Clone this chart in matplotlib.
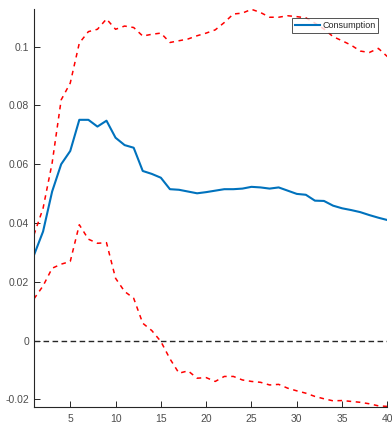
import matplotlib
matplotlib.use("Agg")
import matplotlib.pyplot as plt
import numpy as np

horizon = list(range(1, 41))
consumption = [0.0291, 0.0371, 0.0507, 0.0600, 0.0645, 0.0751, 0.0751, 0.0728, 0.0748, 0.0690,
               0.0665, 0.0656, 0.0577, 0.0567, 0.0554, 0.0515, 0.0513, 0.0507, 0.0501, 0.0505,
               0.0510, 0.0515, 0.0515, 0.0517, 0.0523, 0.0521, 0.0517, 0.0521, 0.0510, 0.0499,
               0.0496, 0.0476, 0.0475, 0.0459, 0.0450, 0.0444, 0.0437, 0.0427, 0.0418, 0.0410]
upper = [0.0360, 0.0450, 0.0604, 0.0819, 0.0876, 0.1012, 0.1051, 0.1059, 0.1094, 0.1059,
         0.1070, 0.1065, 0.1036, 0.1042, 0.1046, 0.1014, 0.1020, 0.1026, 0.1037, 0.1046,
         0.1057, 0.1082, 0.1111, 0.1114, 0.1127, 0.1116, 0.1100, 0.1100, 0.1105, 0.1102,
         0.1098, 0.1080, 0.1060, 0.1034, 0.1020, 0.1005, 0.0985, 0.0980, 0.0994, 0.0966]
lower = [0.0142, 0.0186, 0.0246, 0.0260, 0.0269, 0.0394, 0.0345, 0.0331, 0.0333, 0.0212,
         0.0167, 0.0144, 0.0059, 0.0034, -0.0003, -0.0062, -0.0111, -0.0103, -0.0128, -0.0126,
         -0.0139, -0.0122, -0.0122, -0.0134, -0.0139, -0.0142, -0.0151, -0.0149, -0.0162, -0.0171,
         -0.0179, -0.0190, -0.0198, -0.0205, -0.0204, -0.0207, -0.0210, -0.0215, -0.0222, -0.0224]
xticks = [5, 10, 15, 20, 25, 30, 35, 40]
yticks = [-0.02, 0, 0.02, 0.04, 0.06, 0.08, 0.1]
ytick_labels = ["-0.02", "0", "0.02", "0.04", "0.06", "0.08", "0.1"]

plt.rcParams['font.family'] = ['Liberation Sans', 'DejaVu Sans']
fig = plt.figure(figsize=(3.92, 4.23), dpi=100)
ax = fig.add_axes([34/392, (423-407.3)/423, (387.4-34)/392, (407.3-9)/423])

ax.plot(horizon, [0]*len(horizon), '--', color='#262626', lw=1.0, dashes=(4, 2.5))
ax.plot(horizon, upper, '--', color='#ff0000', lw=1.1, dashes=(3, 3))
ax.plot(horizon, lower, '--', color='#ff0000', lw=1.1, dashes=(3, 3))
ax.plot(horizon, consumption, '-', color='#0072BD', lw=1.5, label='Consumption')

ax.set_xlim(1, 40)
ax.set_ylim(-0.0227, 0.1128)
ax.set_xticks(xticks)
ax.set_yticks(yticks)
ax.set_yticklabels(ytick_labels)
for s in ['top', 'right']:
    ax.spines[s].set_visible(False)
for s in ['left', 'bottom']:
    ax.spines[s].set_color('#262626')
    ax.spines[s].set_linewidth(0.8)
ax.tick_params(direction='in', length=4, width=0.7, colors='#262626', labelsize=7.5,
               labelcolor='#4d4d4d')
ax.tick_params(axis='x', pad=5)

leg = ax.legend(loc='upper right', fontsize=6.5,
                frameon=True, fancybox=False, borderpad=0.3, handlelength=2.8,
                handletextpad=0.25, borderaxespad=0)
leg.set_bbox_to_anchor((378/392, (423-18.3)/423), transform=fig.transFigure)
leg.get_frame().set_edgecolor('#262626')
leg.get_frame().set_linewidth(0.7)
for t in leg.get_texts():
    t.set_color('#262626')

fig.savefig('out.png', dpi=100)
